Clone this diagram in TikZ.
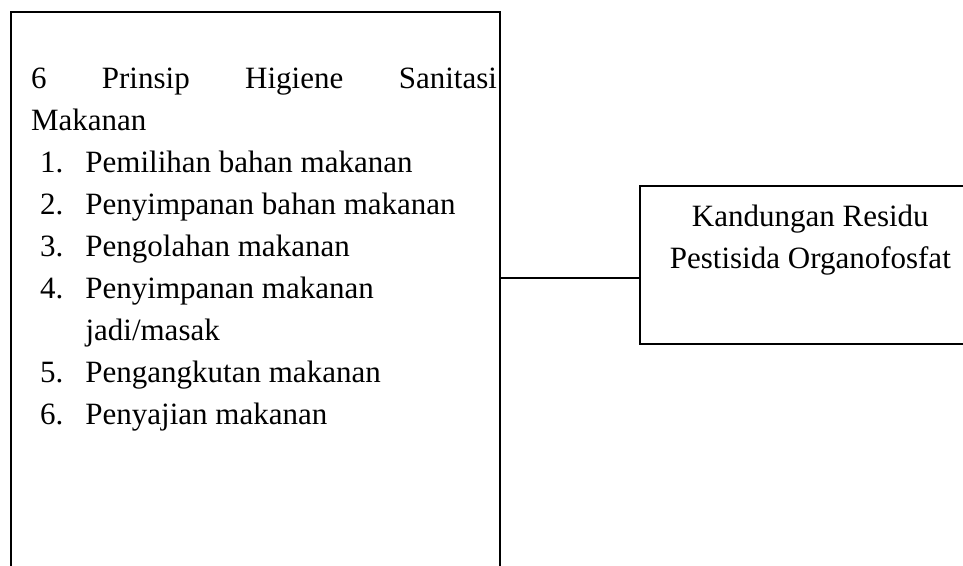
\documentclass[tikz,border=0pt]{standalone}
\usepackage{fontspec}
\setmainfont{Liberation Serif}
\usetikzlibrary{positioning}
\setlength{\parindent}{0pt}
\tikzset{
  kotak/.style={draw,line width=0.7pt,inner sep=0pt,anchor=north west},
  isi/.style={inner sep=0pt,font=\fontsize{12.4pt}{16.8pt}\selectfont},
  garis/.style={line width=0.7pt}
}
\newcommand{\butir}[2]{\par\hspace*{3.6pt}\makebox[18.2pt][l]{#1.}#2}

\begin{document}
\begin{tikzpicture}[x=0.4pt,y=-0.4pt]
  \useasboundingbox (0,0) rectangle (963,566);
  % kotak kiri: prinsip higiene
  \node[kotak,minimum width=195.4pt,minimum height=276pt] (prinsip) at (10.5,11) {};
  \node[isi,anchor=north west,text width=186.4pt,align=justify] (daftar)
    at ([shift={(20,56)}]prinsip.north west)
    {6 Prinsip Higiene Sanitasi\linebreak Makanan
     \butir{1}{Pemilihan bahan makanan}
     \butir{2}{Penyimpanan bahan makanan}
     \butir{3}{Pengolahan makanan}
     \butir{4}{Penyimpanan makanan}
     \par\hspace*{21.8pt}jadi/masak
     \butir{5}{Pengangkutan makanan}
     \butir{6}{Penyajian makanan}\par};
  % kotak kanan: residu
  \node[kotak,minimum width=136.4pt,minimum height=63.2pt] (residu) at (639,185) {};
  \node[isi,anchor=north,align=center] (residuisi) at ([yshift=-7.6pt]residu.north)
    {Kandungan Residu\\Pestisida Organofosfat};
  \coordinate (temu) at ([yshift=-5.2pt]residu.west);
  \draw[garis] (prinsip.east |- temu) -- (temu);
\end{tikzpicture}
\end{document}
